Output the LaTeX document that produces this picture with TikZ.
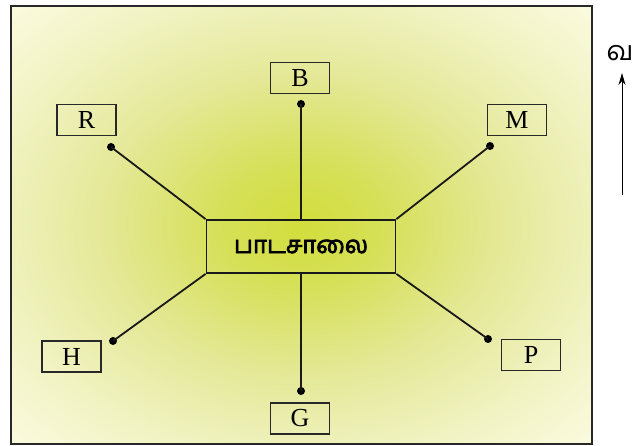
\documentclass[tikz,border=0pt]{standalone}
\usepackage{fontspec}
\setmainfont{Liberation Serif}
\newfontfamily\tamilfont[Script=Tamil]{Hind Madurai}
\newfontfamily\tamilbold[Script=Tamil, FakeBold=3]{Hind Madurai}
\usetikzlibrary{arrows.meta}

\definecolor{glowa}{RGB}{210,222,60}
\definecolor{glowb}{RGB}{214,224,88}
\definecolor{glowc}{RGB}{228,232,150}
\definecolor{glowd}{RGB}{241,243,195}
\definecolor{glowe}{RGB}{254,253,232}
\definecolor{edgegray}{RGB}{40,40,40}
\pgfdeclareradialshading{schoolglow}{\pgfpoint{0bp}{0bp}}{color(0bp)=(glowa); color(7bp)=(glowb); color(17bp)=(glowc); color(27bp)=(glowd); color(38bp)=(glowe); color(50bp)=(glowe)}

\tikzset{
    placebox/.style={draw=edgegray, line width=1.1pt, minimum width=59pt, minimum height=31pt, inner sep=0pt, font=\fontsize{26}{26}\selectfont},
    pin/.style={circle, fill=black, inner sep=0pt, minimum size=8pt},
    road/.style={line width=1.8pt, draw=black!90}
}

\begin{document}
\begin{tikzpicture}[x=1pt, y=-1pt]
        \useasboundingbox (0,0) rectangle (635,446);
        \path[shading=schoolglow, draw=edgegray, line width=2.5pt] (11,6) rectangle (592,444);

        \node[draw=black!90, line width=1.8pt, minimum width=189pt, minimum height=53pt, inner sep=0pt] (school) at (301,246.5) {\tamilbold\fontsize{24}{24}\selectfont பாடசாலை};

        \node[placebox] (b) at (300,78) {B};
        \node[placebox] (r) at (86.5,120) {R};
        \node[placebox] (m) at (517,120) {M};
        \node[placebox] (h) at (71.5,356.5) {H};
        \node[placebox] (p) at (531,355) {P};
        \node[placebox] (g) at (300,418.5) {G};

        \node[pin] (bp) at (301,104) {};
        \node[pin] (rp) at (111,147) {};
        \node[pin] (mp) at (490,146) {};
        \node[pin] (hp) at (113,341) {};
        \node[pin] (pp) at (488,339) {};
        \node[pin] (gp) at (301,391) {};

        \draw[road] (school.north) -- (bp.center);
        \draw[road] (school.north west) -- (rp.center);
        \draw[road] (school.north east) -- (mp.center);
        \draw[road] (school.south west) -- (hp.center);
        \draw[road] (school.south east) -- (pp.center);
        \draw[road] (school.south) -- (gp.center);

        % north
        \coordinate (ntail) at (622,195);
        \coordinate (nhead) at (622,73);
        \draw[line width=1pt, -{Stealth[length=12pt, width=7pt]}] (ntail) -- (nhead);
        \node[font=\tamilfont\fontsize{27}{27}\selectfont] (north) at (620,53) {வ};
\end{tikzpicture}
\end{document}
